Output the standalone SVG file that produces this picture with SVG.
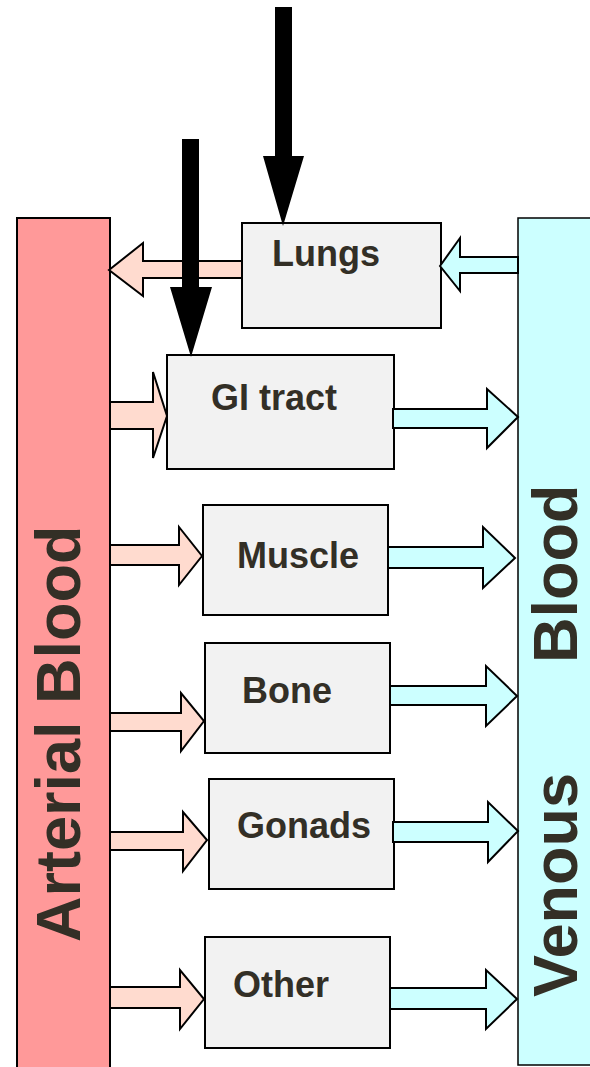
<svg xmlns="http://www.w3.org/2000/svg" width="590" height="1067" viewBox="0 0 590 1067">
<style>
.box{fill:#f2f2f2;stroke:#000;stroke-width:2}
.lbl{font-family:"Liberation Sans",Arial,sans-serif;font-weight:bold;font-size:36px;fill:#332f26}
.big{font-family:"Liberation Sans",Arial,sans-serif;font-weight:bold;font-size:63px;fill:#332f26}
.pa{fill:#ffdbcf;stroke:#000;stroke-width:2;stroke-linejoin:miter}
.ca{fill:#ccffff;stroke:#000;stroke-width:2;stroke-linejoin:miter}
.ba{fill:#000;stroke:none}
</style>
<rect width="590" height="1067" fill="#fff"/>
<g id="arterial">
<rect x="17" y="218" width="93" height="860" fill="#ff9999" stroke="#000" stroke-width="2"/>
<text class="big" transform="translate(80,942) rotate(-90)">Arterial Blood</text>
</g>
<g id="venous">
<rect x="518" y="218" width="80" height="847" fill="#ccffff" stroke="#000" stroke-width="1.5"/>
<text class="big" transform="translate(577,997) rotate(-90)"><tspan x="0" y="0">Venous</tspan><tspan x="334" y="0">Blood</tspan></text>
</g>
<g id="lungs">
<rect class="box" x="242" y="223" width="199" height="105"/>
<text class="lbl" x="272" y="266">Lungs</text>
</g>
<g id="gi">
<rect class="box" x="167" y="355" width="227" height="114"/>
<text class="lbl" x="211" y="410">GI tract</text>
</g>
<g id="muscle">
<rect class="box" x="203" y="505" width="185" height="110"/>
<text class="lbl" x="237" y="568">Muscle</text>
</g>
<g id="bone">
<rect class="box" x="205" y="643" width="185" height="110"/>
<text class="lbl" x="242" y="703">Bone</text>
</g>
<g id="gonads">
<rect class="box" x="209" y="779" width="185" height="110"/>
<text class="lbl" x="237" y="838">Gonads</text>
</g>
<g id="other">
<rect class="box" x="205" y="937" width="185" height="111"/>
<text class="lbl" x="233" y="997">Other</text>
</g>
<g id="connectors">
<polygon class="pa" points="109,270 143,243 143,261 242,261 242,278 143,278 143,296"/>
<polygon class="ca" points="440,266 460,238 460,257 518,257 518,273 460,273 460,291"/>
<polygon class="pa" points="110,402 153,402 153,372 167,416 153,458 153,429 110,429"/>
<polygon class="ca" points="393,409 487,409 487,389 518,417 487,448 487,428 393,428"/>
<polygon class="pa" points="110,545 179,545 179,527 202,556 179,585 179,565 110,565"/>
<polygon class="ca" points="388,547 483,547 483,527 515,558 483,588 483,568 388,568"/>
<polygon class="pa" points="110,713 181,713 181,693 204,721 181,751 181,731 110,731"/>
<polygon class="ca" points="390,686 486,686 486,666 517,696 486,726 486,705 390,705"/>
<polygon class="pa" points="110,832 183,832 183,812 207,840 183,871 183,850 110,850"/>
<polygon class="ca" points="393,822 488,822 488,802 518,831 488,862 488,842 393,842"/>
<polygon class="pa" points="110,987 180,987 180,970 204,999 180,1029 180,1008 110,1008"/>
<polygon class="ca" points="390,988 486,988 486,970 517,999 486,1029 486,1009 390,1009"/>
<polygon class="ba" points="275,7 292,7 292,156 304,156 283,226 263,156 275,156"/>
<polygon class="ba" points="182,139 199,139 199,287 212,287 191,357 170,287 182,287"/>
</g>
</svg>
